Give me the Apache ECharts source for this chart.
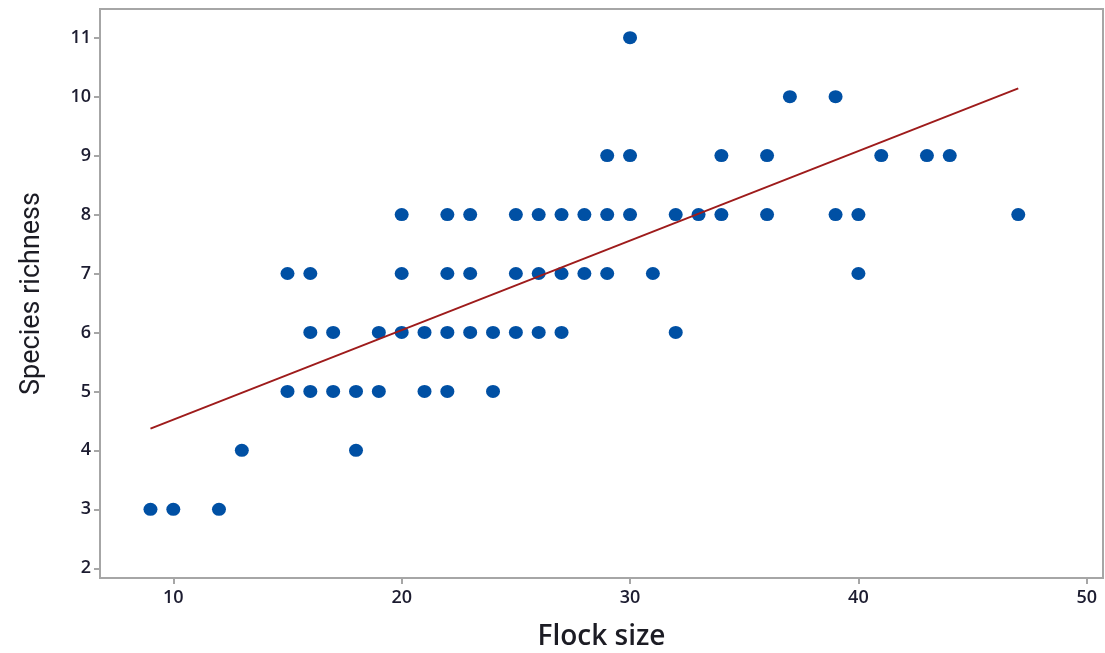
<!DOCTYPE html>
<html>
<head>
<meta charset="utf-8">
<script src="https://cdn.jsdelivr.net/npm/echarts@6/dist/echarts.min.js"></script>
<style>
html,body{margin:0;padding:0;background:#fff;}
#chart{width:1105px;height:653px;}
</style>
</head>
<body>
<div id="chart"></div>
<script>
// Flock size (x) and species richness (y) for each observed flock
const flockSize = [
  9, 10, 12,
  13, 18,
  15, 16, 17, 18, 19, 21, 22, 24,
  16, 17, 19, 20, 21, 22, 23, 24, 25, 26, 27, 32,
  15, 16, 20, 22, 23, 25, 26, 27, 28, 29, 31, 40,
  20, 22, 23, 25, 26, 27, 28, 29, 30, 32, 33, 34, 36, 39, 40, 47,
  29, 30, 34, 36, 41, 43, 44,
  37, 39,
  30
];
const speciesRichness = [
  3, 3, 3,
  4, 4,
  5, 5, 5, 5, 5, 5, 5, 5,
  6, 6, 6, 6, 6, 6, 6, 6, 6, 6, 6, 6,
  7, 7, 7, 7, 7, 7, 7, 7, 7, 7, 7, 7,
  8, 8, 8, 8, 8, 8, 8, 8, 8, 8, 8, 8, 8, 8, 8, 8,
  9, 9, 9, 9, 9, 9, 9,
  10, 10,
  11
];
// Fitted regression line end points
const fitX = [9, 47];
const fitY = [4.37, 10.14];
// Tick labels
const xTicks = [10, 20, 30, 40, 50];
const yTicks = [2, 3, 4, 5, 6, 7, 8, 9, 10, 11];

const points = flockSize.map((x, i) => [x, speciesRichness[i]]);
const fitLine = fitX.map((x, i) => [x, fitY[i]]);

const chart = echarts.init(document.getElementById('chart'), null, {renderer: 'canvas'});
const labelFont = {fontFamily: 'Open Sans', fontSize: 18, fontWeight: 600, color: '#1c1c30'};
chart.setOption({
  animation: false,
  backgroundColor: '#ffffff',
  grid: {
    left: 100, top: 9, right: 2, bottom: 75,
    containLabel: false,
    outerBoundsMode: 'none',
    show: true,
    borderColor: '#a6a6a6',
    borderWidth: 2,
    backgroundColor: 'transparent'
  },
  xAxis: {
    type: 'value',
    min: 6.79,
    max: 50.71,
    name: 'Flock size',
    nameLocation: 'middle',
    nameGap: 45,
    nameTextStyle: {fontFamily: 'Open Sans', fontSize: 28, fontWeight: 600, color: '#1c1c24'},
    axisLine: {show: false},
    axisTick: {show: true, inside: false, length: 6, customValues: xTicks, lineStyle: {color: '#a6a6a6', width: 2}},
    axisLabel: Object.assign({customValues: xTicks, margin: 11}, labelFont),
    splitLine: {show: false}
  },
  yAxis: {
    type: 'value',
    min: 1.835,
    max: 11.487,
    name: 'Species richness',
    nameLocation: 'middle',
    nameGap: 54,
    nameRotate: 90,
    nameTextStyle: {fontFamily: 'Roboto', fontSize: 27, fontWeight: 400, color: '#1c1c24'},
    axisLine: {show: false},
    axisTick: {show: true, inside: false, length: 6, customValues: yTicks, lineStyle: {color: '#a6a6a6', width: 2}},
    axisLabel: Object.assign({customValues: yTicks, margin: 9}, labelFont),
    splitLine: {show: false}
  },
  series: [
    {
      type: 'scatter',
      data: points,
      symbol: 'circle',
      symbolSize: [14, 13],
      itemStyle: {color: '#0050a4', opacity: 1},
      z: 2
    },
    {
      type: 'line',
      data: fitLine,
      symbol: 'none',
      lineStyle: {color: '#9e1b1b', width: 2},
      z: 3
    }
  ]
});
</script>
</body>
</html>
